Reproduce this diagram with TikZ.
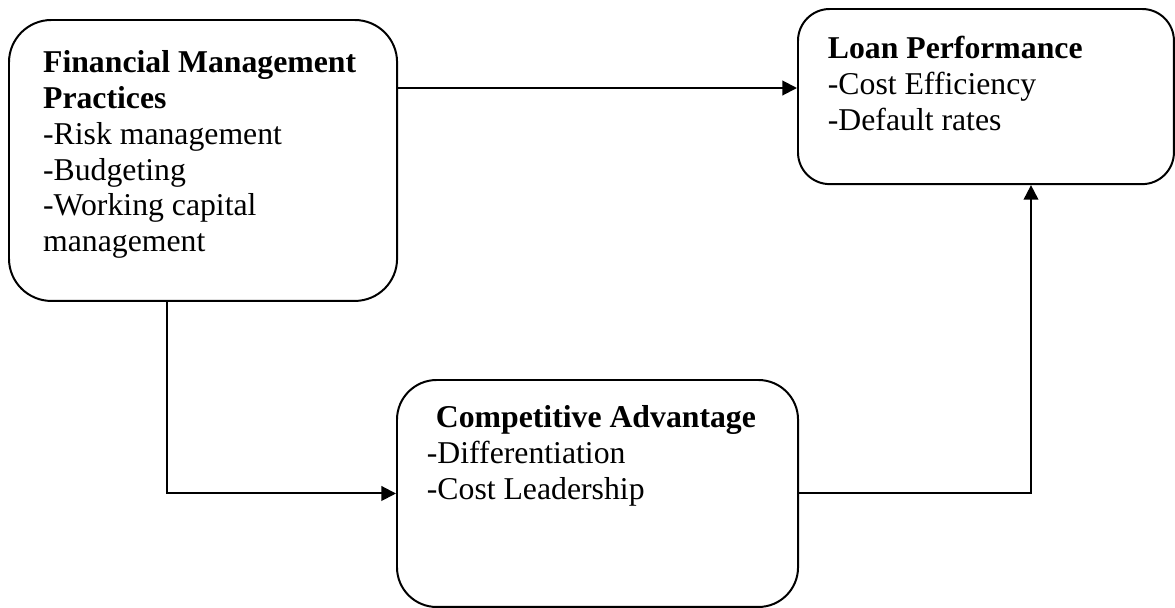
\documentclass[tikz,border=0pt]{standalone}
\usepackage{fontspec}
\setmainfont{Liberation Serif}
\usetikzlibrary{arrows.meta}

\tikzset{
  block/.style={draw, line width=0.75pt, inner sep=0pt, anchor=north west},
  arr/.style={line width=0.75pt, -{Triangle[length=5.5pt,width=5.5pt]}}
}
% width, height, indent, first baseline, text
\newcommand{\blocktext}[5]{\parbox[t][#2][t]{#1}{\raggedright\leftskip=#3
  \fontsize{12}{13.5}\selectfont\rule{0pt}{#4}#5}}

\begin{document}
\begin{tikzpicture}[x=0.378pt,y=-0.378pt]
    \useasboundingbox (0,0) rectangle (1175,608);

    \node[block, rounded corners=16pt] (fmp) at (8,19)
      {\blocktext{146.7pt}{106.2pt}{12.9pt}{20pt}{\textbf{Financial Management}\\
       \textbf{Practices}\\ -Risk management\\ -Budgeting\\ -Working capital\\ management}};
    \node[block, rounded corners=12pt] (loan) at (797,8)
      {\blocktext{142.1pt}{66.2pt}{11.3pt}{18.9pt}{\textbf{Loan Performance}\\
       -Cost Efficiency\\ -Default rates}};
    \node[block, rounded corners=15pt] (comp) at (396,379)
      {\blocktext{151.6pt}{85.8pt}{11.3pt}{18.1pt}{\hspace*{3.4pt}\textbf{Competitive Advantage}\\
       -Differentiation\\ -Cost Leadership}};

    \coordinate (toprow) at (0,88);
    \coordinate (down) at (167,0);
    \coordinate (up) at (1031,0);

    \draw[arr] (fmp.east |- toprow) -- (loan.west |- toprow);
    \draw[arr] (fmp.south -| down) |- (comp.west);
    \draw[arr] (comp.east) -| (loan.south -| up);
  \end{tikzpicture}
\end{document}
